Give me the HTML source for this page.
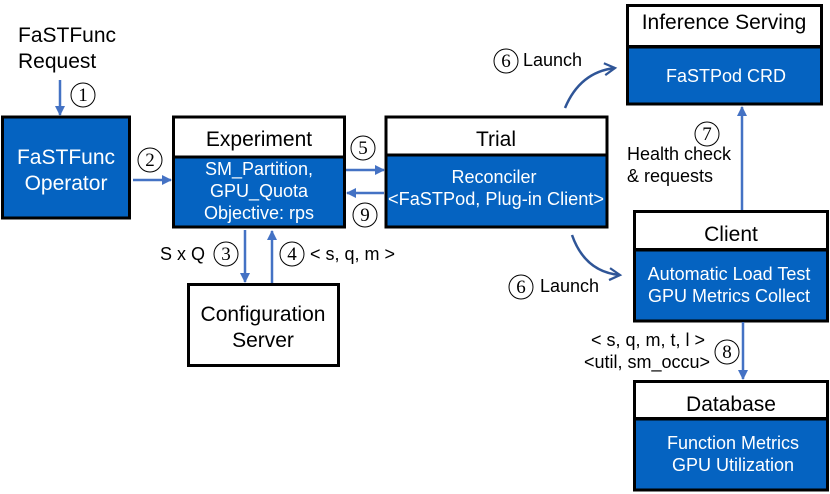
<!DOCTYPE html>
<html><head><meta charset="utf-8"><style>
html,body{margin:0;padding:0;background:#fff;}
svg{display:block;font-family:"Liberation Sans",Arial,sans-serif;}
.h{font-size:21px;fill:#000;text-anchor:middle;}
.w{font-size:18px;fill:#fff;text-anchor:middle;}
.l{font-size:18px;fill:#000;}
.n{font-family:"Liberation Serif",serif;font-size:19px;text-anchor:middle;fill:#000;}
</style></head><body>
<svg width="830" height="494" viewBox="0 0 830 494" xmlns="http://www.w3.org/2000/svg">
<defs>
<marker id="a" viewBox="0 0 10 10" refX="9" refY="5" markerWidth="4" markerHeight="4" orient="auto"><path d="M0,0L10,5L0,10z" fill="#4472C4"/></marker>
<marker id="c" viewBox="0 0 10 10" refX="8" refY="5" markerWidth="6" markerHeight="6" orient="auto"><path d="M1,1L8,5L1,9" fill="none" stroke="#2F5597" stroke-width="1.5"/></marker>
</defs>
<g stroke="#000" stroke-width="3">
<rect x="2.5" y="117" width="127" height="101" fill="#0563C1"/>
<rect x="173.5" y="117" width="171" height="40" fill="#fff"/>
<rect x="173.5" y="157" width="171" height="70" fill="#0563C1"/>
<rect x="386" y="117" width="221" height="38" fill="#fff"/>
<rect x="386" y="155" width="221" height="72" fill="#0563C1"/>
<rect x="627.5" y="5.5" width="194" height="41" fill="#fff"/>
<rect x="627.5" y="47" width="194" height="57" fill="#0563C1"/>
<rect x="634.5" y="211.5" width="193" height="38" fill="#fff"/>
<rect x="634.5" y="250" width="193" height="71" fill="#0563C1"/>
<rect x="634.5" y="381.5" width="193" height="37" fill="#fff"/>
<rect x="634.5" y="419" width="193" height="71" fill="#0563C1"/>
<rect x="188.5" y="284.5" width="150" height="81" fill="#fff"/>
</g>
<g stroke="#4472C4" stroke-width="2.5" fill="none" marker-end="url(#a)">
<line x1="60" y1="80" x2="60" y2="115"/>
<line x1="133" y1="180" x2="171" y2="180"/>
<line x1="346" y1="170" x2="384" y2="170"/>
<line x1="384" y1="193" x2="347" y2="193"/>
<line x1="245" y1="230" x2="245" y2="282"/>
<line x1="272" y1="283" x2="272" y2="231"/>
<line x1="742" y1="210" x2="742" y2="107"/>
<line x1="743" y1="322" x2="743" y2="379"/>
</g>
<g stroke="#2F5597" stroke-width="2.5" fill="none" marker-end="url(#c)">
<path d="M565,108 Q580,72 615,68"/>
<path d="M572,235 Q585,272 620,275"/>
</g>
<text class="l" x="18" y="42" style="font-size:21px">FaSTFunc</text>
<text class="l" x="18" y="68" style="font-size:21px">Request</text>
<text class="w" x="66" y="164" style="font-size:21px">FaSTFunc</text>
<text class="w" x="66" y="190" style="font-size:21px">Operator</text>
<text class="h" x="259" y="146">Experiment</text>
<text class="w" x="259" y="175">SM_Partition,</text>
<text class="w" x="259" y="197">GPU_Quota</text>
<text class="w" x="259" y="219">Objective: rps</text>
<text class="h" x="496" y="146">Trial</text>
<text class="w" x="494" y="183">Reconciler</text>
<text class="w" x="496" y="205" textLength="216" lengthAdjust="spacingAndGlyphs">&lt;FaSTPod, Plug-in Client&gt;</text>
<text class="h" x="724" y="29">Inference Serving</text>
<text class="w" x="726" y="82">FaSTPod CRD</text>
<text class="h" x="731" y="241">Client</text>
<text class="w" x="729" y="280">Automatic Load Test</text>
<text class="w" x="729" y="302">GPU Metrics Collect</text>
<text class="h" x="731" y="411">Database</text>
<text class="w" x="733" y="449">Function Metrics</text>
<text class="w" x="733" y="471">GPU Utilization</text>
<text class="h" x="263" y="321">Configuration</text>
<text class="h" x="263" y="347">Server</text>
<text class="l" x="160" y="260">S x Q</text>
<text class="l" x="310" y="260">&lt; s, q, m &gt;</text>
<text class="l" x="523" y="66">Launch</text>
<text class="l" x="540" y="292">Launch</text>
<text class="l" x="627" y="160">Health check</text>
<text class="l" x="627" y="182">&amp; requests</text>
<text class="l" x="591" y="346">&lt; s, q, m, t, l &gt;</text>
<text class="l" x="584" y="368">&lt;util, sm_occu&gt;</text>
<g fill="#fff" stroke="#000" stroke-width="1">
<circle cx="83" cy="95" r="12"/><circle cx="150" cy="160" r="12"/>
<circle cx="363" cy="148" r="12"/><circle cx="365" cy="215" r="12"/>
<circle cx="226" cy="254" r="12"/><circle cx="292" cy="254" r="12"/>
<circle cx="506" cy="61" r="12"/><circle cx="521" cy="287" r="12"/>
<circle cx="707" cy="134" r="12"/><circle cx="727" cy="352" r="12"/>
</g>
<text class="n" x="83" y="101">1</text><text class="n" x="150" y="166">2</text>
<text class="n" x="363" y="154">5</text><text class="n" x="365" y="221">9</text>
<text class="n" x="226" y="260">3</text><text class="n" x="292" y="260">4</text>
<text class="n" x="506" y="67">6</text><text class="n" x="521" y="293">6</text>
<text class="n" x="707" y="140">7</text><text class="n" x="727" y="358">8</text>
</svg>
</body></html>
